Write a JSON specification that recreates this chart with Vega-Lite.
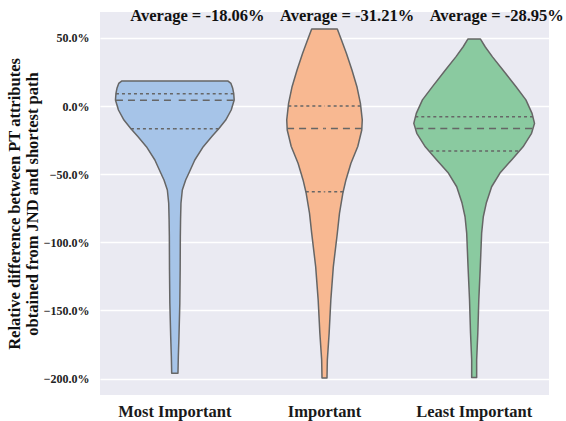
{
  "$schema": "https://vega.github.io/schema/vega-lite/v6.json",
  "autosize": {"type": "none"},
  "padding": {"left": 100, "top": 12, "right": 17, "bottom": 26},
  "width": 449,
  "height": 383,
  "background": "white",
  "data": {"values": [
    {"cat": "Most Important", "kind": "v", "value": 18.3, "w": 106.7},
    {"cat": "Most Important", "kind": "v", "value": 16.6, "w": 112.5},
    {"cat": "Most Important", "kind": "v", "value": 13.0, "w": 116},
    {"cat": "Most Important", "kind": "v", "value": 9.3, "w": 118},
    {"cat": "Most Important", "kind": "v", "value": 4.4, "w": 119},
    {"cat": "Most Important", "kind": "v", "value": -2.9, "w": 113},
    {"cat": "Most Important", "kind": "v", "value": -10.3, "w": 102},
    {"cat": "Most Important", "kind": "v", "value": -16.6, "w": 88},
    {"cat": "Most Important", "kind": "v", "value": -22.0, "w": 75},
    {"cat": "Most Important", "kind": "v", "value": -29.8, "w": 57},
    {"cat": "Most Important", "kind": "v", "value": -39.6, "w": 40},
    {"cat": "Most Important", "kind": "v", "value": -49.3, "w": 28},
    {"cat": "Most Important", "kind": "v", "value": -54.3, "w": 21.7},
    {"cat": "Most Important", "kind": "v", "value": -61.6, "w": 15},
    {"cat": "Most Important", "kind": "v", "value": -71.3, "w": 12.3},
    {"cat": "Most Important", "kind": "v", "value": -83.0, "w": 11.5},
    {"cat": "Most Important", "kind": "v", "value": -95.8, "w": 11},
    {"cat": "Most Important", "kind": "v", "value": -120.0, "w": 10.7},
    {"cat": "Most Important", "kind": "v", "value": -144.6, "w": 10},
    {"cat": "Most Important", "kind": "v", "value": -169.0, "w": 8.3},
    {"cat": "Most Important", "kind": "v", "value": -183.8, "w": 7},
    {"cat": "Most Important", "kind": "v", "value": -196.0, "w": 6.3},
    {"cat": "Important", "kind": "v", "value": 56.5, "w": 25.7},
    {"cat": "Important", "kind": "v", "value": 48.4, "w": 34},
    {"cat": "Important", "kind": "v", "value": 38.6, "w": 44},
    {"cat": "Important", "kind": "v", "value": 26.4, "w": 55},
    {"cat": "Important", "kind": "v", "value": 14.2, "w": 65},
    {"cat": "Important", "kind": "v", "value": 2.0, "w": 72},
    {"cat": "Important", "kind": "v", "value": -10.2, "w": 75.7},
    {"cat": "Important", "kind": "v", "value": -17.6, "w": 74.7},
    {"cat": "Important", "kind": "v", "value": -29.7, "w": 66.7},
    {"cat": "Important", "kind": "v", "value": -42.0, "w": 53},
    {"cat": "Important", "kind": "v", "value": -54.2, "w": 43},
    {"cat": "Important", "kind": "v", "value": -64.0, "w": 36.7},
    {"cat": "Important", "kind": "v", "value": -78.7, "w": 30},
    {"cat": "Important", "kind": "v", "value": -93.3, "w": 25.7},
    {"cat": "Important", "kind": "v", "value": -117.8, "w": 17.7},
    {"cat": "Important", "kind": "v", "value": -142.2, "w": 12.7},
    {"cat": "Important", "kind": "v", "value": -166.6, "w": 9.3},
    {"cat": "Important", "kind": "v", "value": -186.2, "w": 5.7},
    {"cat": "Important", "kind": "v", "value": -199.6, "w": 5},
    {"cat": "Least Important", "kind": "v", "value": 49.1, "w": 12.7},
    {"cat": "Least Important", "kind": "v", "value": 43.5, "w": 22},
    {"cat": "Least Important", "kind": "v", "value": 36.1, "w": 36.7},
    {"cat": "Least Important", "kind": "v", "value": 26.3, "w": 58},
    {"cat": "Least Important", "kind": "v", "value": 14.1, "w": 84},
    {"cat": "Least Important", "kind": "v", "value": 4.5, "w": 103.7},
    {"cat": "Least Important", "kind": "v", "value": -5.4, "w": 116},
    {"cat": "Least Important", "kind": "v", "value": -12.7, "w": 121},
    {"cat": "Least Important", "kind": "v", "value": -20.0, "w": 115},
    {"cat": "Least Important", "kind": "v", "value": -29.9, "w": 98},
    {"cat": "Least Important", "kind": "v", "value": -39.5, "w": 75},
    {"cat": "Least Important", "kind": "v", "value": -49.2, "w": 51.7},
    {"cat": "Least Important", "kind": "v", "value": -59.2, "w": 35},
    {"cat": "Least Important", "kind": "v", "value": -71.2, "w": 24.3},
    {"cat": "Least Important", "kind": "v", "value": -81.2, "w": 18.3},
    {"cat": "Least Important", "kind": "v", "value": -93.2, "w": 15},
    {"cat": "Least Important", "kind": "v", "value": -117.7, "w": 12.3},
    {"cat": "Least Important", "kind": "v", "value": -142.1, "w": 9.3},
    {"cat": "Least Important", "kind": "v", "value": -166.5, "w": 7.3},
    {"cat": "Least Important", "kind": "v", "value": -186.1, "w": 5},
    {"cat": "Least Important", "kind": "v", "value": -199.2, "w": 5},
    {"cat": "Most Important", "kind": "q", "value": 9.0, "w": 118},
    {"cat": "Most Important", "kind": "m", "value": 4.2, "w": 118},
    {"cat": "Most Important", "kind": "q", "value": -16.6, "w": 88},
    {"cat": "Important", "kind": "q", "value": 0.0, "w": 72.5},
    {"cat": "Important", "kind": "m", "value": -16.4, "w": 75},
    {"cat": "Important", "kind": "q", "value": -62.8, "w": 37.5},
    {"cat": "Least Important", "kind": "q", "value": -7.8, "w": 118},
    {"cat": "Least Important", "kind": "m", "value": -16.5, "w": 116},
    {"cat": "Least Important", "kind": "q", "value": -33.0, "w": 88},
    {"cat": "Most Important", "kind": "t", "label": "Average = -18.06%"},
    {"cat": "Important", "kind": "t", "label": "Average = -31.21%"},
    {"cat": "Least Important", "kind": "t", "label": "Average = -28.95%"}
  ]},
  "resolve": {"scale": {"x": "independent"}},
  "layer": [
    {
      "transform": [{"filter": "datum.kind == 'v' && datum.cat == 'Most Important'"}],
      "mark": {"type": "area", "orient": "horizontal", "fill": "#A6C4E8", "stroke": "#666666", "strokeWidth": 1.5, "strokeJoin": "round", "fillOpacity": 1},
      "encoding": {
        "y": {
          "field": "value", "type": "quantitative",
          "scale": {"domain": [-212, 69], "nice": false, "zero": false},
          "axis": {
            "values": [-200, -150, -100, -50, 0, 50],
            "labelExpr": "format(datum.value, '.1f') + '%'",
            "title": ["Relative difference between PT attributes", "obtained from JND and shortest path"]
          }
        },
        "x": {"field": "w", "type": "quantitative", "stack": "center", "scale": {"domain": [-15.5, 434.5]}, "axis": null}
      }
    },
    {
      "transform": [{"filter": "datum.kind == 'v' && datum.cat == 'Important'"}],
      "mark": {"type": "area", "orient": "horizontal", "fill": "#F8B891", "stroke": "#666666", "strokeWidth": 1.5, "strokeJoin": "round", "fillOpacity": 1},
      "encoding": {
        "y": {"field": "value", "type": "quantitative", "scale": {"domain": [-212, 69], "nice": false, "zero": false}},
        "x": {"field": "w", "type": "quantitative", "stack": "center", "scale": {"domain": [-187.15, 262.85]}, "axis": null}
      }
    },
    {
      "transform": [{"filter": "datum.kind == 'v' && datum.cat == 'Least Important'"}],
      "mark": {"type": "area", "orient": "horizontal", "fill": "#8ACAA0", "stroke": "#666666", "strokeWidth": 1.5, "strokeJoin": "round", "fillOpacity": 1},
      "encoding": {
        "y": {"field": "value", "type": "quantitative", "scale": {"domain": [-212, 69], "nice": false, "zero": false}},
        "x": {"field": "w", "type": "quantitative", "stack": "center", "scale": {"domain": [-314.5, 135.5]}, "axis": null}
      }
    },
    {
      "transform": [{"filter": "(datum.kind == 'q' || datum.kind == 'm') && datum.cat == 'Most Important'"}],
      "mark": {"type": "rule", "color": "#666666", "strokeWidth": 1.5},
      "encoding": {
        "y": {"field": "value", "type": "quantitative", "scale": {"domain": [-212, 69], "nice": false, "zero": false}},
        "x": {"field": "w", "type": "quantitative", "scale": {"domain": [-150, 750]}, "axis": null},
        "x2": {"datum": 0},
        "strokeDash": {"field": "kind", "type": "nominal", "scale": {"domain": ["m", "q"], "range": [[7, 5], [3, 3]]}, "legend": null}
      }
    },
    {
      "transform": [{"filter": "(datum.kind == 'q' || datum.kind == 'm') && datum.cat == 'Most Important'"}],
      "mark": {"type": "rule", "color": "#666666", "strokeWidth": 1.5},
      "encoding": {
        "y": {"field": "value", "type": "quantitative", "scale": {"domain": [-212, 69], "nice": false, "zero": false}},
        "x": {"field": "w", "type": "quantitative", "scale": {"domain": [-750, 150], "reverse": true}, "axis": null},
        "x2": {"datum": 0},
        "strokeDash": {"field": "kind", "type": "nominal", "scale": {"domain": ["m", "q"], "range": [[7, 5], [3, 3]]}, "legend": null}
      }
    },
    {
      "transform": [{"filter": "(datum.kind == 'q' || datum.kind == 'm') && datum.cat == 'Important'"}],
      "mark": {"type": "rule", "color": "#666666", "strokeWidth": 1.5},
      "encoding": {
        "y": {"field": "value", "type": "quantitative", "scale": {"domain": [-212, 69], "nice": false, "zero": false}},
        "x": {"field": "w", "type": "quantitative", "scale": {"domain": [-450, 450]}, "axis": null},
        "x2": {"datum": 0},
        "strokeDash": {"field": "kind", "type": "nominal", "scale": {"domain": ["m", "q"], "range": [[7, 5], [3, 3]]}, "legend": null}
      }
    },
    {
      "transform": [{"filter": "(datum.kind == 'q' || datum.kind == 'm') && datum.cat == 'Important'"}],
      "mark": {"type": "rule", "color": "#666666", "strokeWidth": 1.5},
      "encoding": {
        "y": {"field": "value", "type": "quantitative", "scale": {"domain": [-212, 69], "nice": false, "zero": false}},
        "x": {"field": "w", "type": "quantitative", "scale": {"domain": [-450, 450], "reverse": true}, "axis": null},
        "x2": {"datum": 0},
        "strokeDash": {"field": "kind", "type": "nominal", "scale": {"domain": ["m", "q"], "range": [[7, 5], [3, 3]]}, "legend": null}
      }
    },
    {
      "transform": [{"filter": "(datum.kind == 'q' || datum.kind == 'm') && datum.cat == 'Least Important'"}],
      "mark": {"type": "rule", "color": "#666666", "strokeWidth": 1.5},
      "encoding": {
        "y": {"field": "value", "type": "quantitative", "scale": {"domain": [-212, 69], "nice": false, "zero": false}},
        "x": {"field": "w", "type": "quantitative", "scale": {"domain": [-750, 150]}, "axis": null},
        "x2": {"datum": 0},
        "strokeDash": {"field": "kind", "type": "nominal", "scale": {"domain": ["m", "q"], "range": [[7, 5], [3, 3]]}, "legend": null}
      }
    },
    {
      "transform": [{"filter": "(datum.kind == 'q' || datum.kind == 'm') && datum.cat == 'Least Important'"}],
      "mark": {"type": "rule", "color": "#666666", "strokeWidth": 1.5},
      "encoding": {
        "y": {"field": "value", "type": "quantitative", "scale": {"domain": [-212, 69], "nice": false, "zero": false}},
        "x": {"field": "w", "type": "quantitative", "scale": {"domain": [-150, 750], "reverse": true}, "axis": null},
        "x2": {"datum": 0},
        "strokeDash": {"field": "kind", "type": "nominal", "scale": {"domain": ["m", "q"], "range": [[7, 5], [3, 3]]}, "legend": null}
      }
    },
    {
      "transform": [{"filter": "datum.kind == 't'"}],
      "mark": {"type": "text", "align": "left", "baseline": "alphabetic", "dx": -44.5, "font": "Liberation Serif", "fontSize": 16.5, "fontWeight": "bold", "color": "#111111", "clip": false},
      "encoding": {
        "y": {"datum": 62.7, "type": "quantitative"},
        "x": {
          "field": "cat", "type": "nominal",
          "sort": ["Most Important", "Important", "Least Important"],
          "scale": {"type": "band", "domain": ["Most Important", "Important", "Least Important"], "paddingInner": 0, "paddingOuter": 0},
          "axis": {
            "orient": "bottom", "title": null, "ticks": false, "domain": false, "grid": false,
            "labelAngle": 0, "labelFont": "Liberation Serif", "labelFontSize": 16.5, "labelFontWeight": "bold",
            "labelColor": "#1a1a1a", "labelPadding": 8
          }
        },
        "text": {"field": "label", "type": "nominal"}
      }
    }
  ],
  "config": {
    "view": {"fill": "#EAEAF2", "stroke": null},
    "font": "Liberation Serif",
    "axis": {
      "labelFont": "Liberation Serif",
      "labelFontSize": 12,
      "labelFontWeight": "bold",
      "labelColor": "#222222",
      "labelPadding": 11,
      "ticks": false,
      "domain": false,
      "gridColor": "#ffffff",
      "gridWidth": 1.5,
      "titleFont": "Liberation Serif",
      "titleFontSize": 16.5,
      "titleFontWeight": "bold",
      "titleColor": "#111111",
      "titlePadding": 3,
      "titleLineHeight": 18
    },
    "axisY": {"grid": true}
  }
}
